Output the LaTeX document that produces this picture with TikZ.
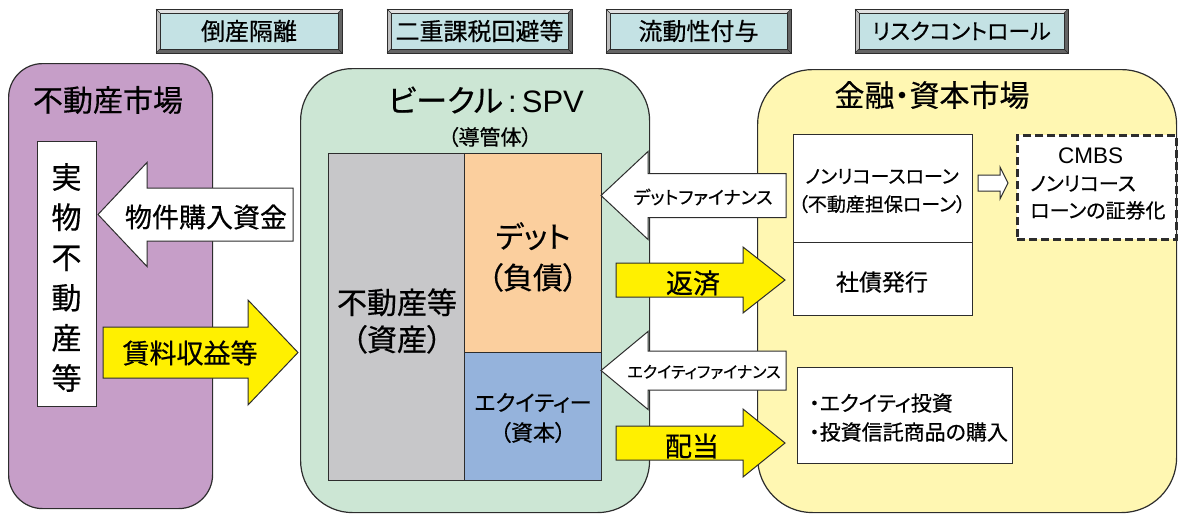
\documentclass[tikz,border=0pt]{standalone}
\usepackage{fontspec}
\setmainfont{Noto Sans CJK JP}[RawFeature=+palt, FakeBold=0.5]
\newfontfamily\latin{Liberation Sans}
\definecolor{purpleF}{RGB}{198,158,200}
\definecolor{greenF}{RGB}{204,230,212}
\definecolor{yellowF}{RGB}{255,247,178}
\definecolor{grayF}{RGB}{199,199,201}
\definecolor{orangeF}{RGB}{251,207,158}
\definecolor{blueF}{RGB}{149,179,220}
\definecolor{yarrowF}{RGB}{255,240,0}
\definecolor{labelF}{RGB}{196,226,228}
\definecolor{lineC}{RGB}{45,45,45}
\definecolor{bevLight}{RGB}{225,225,225}
\definecolor{bevMid}{RGB}{190,190,190}
\definecolor{bevDark}{RGB}{100,100,100}
\newcommand\myfs[2]{\fontsize{#1}{#2}\selectfont}
\tikzset{
  panel/.style={draw=lineC, line width=1.2pt, inner sep=0pt, anchor=north west},
  plainbox/.style={draw=lineC, line width=1pt, fill=white, inner sep=0pt, anchor=north west},
  dashbox/.style={draw=lineC, line width=2.8pt, fill=white, inner sep=0pt, anchor=north west, dash pattern=on 8pt off 4pt},
  blockW/.style={draw=lineC, line width=1pt, fill=white, line join=miter},
  blockY/.style={draw=lineC, line width=1pt, fill=yarrowF, line join=miter},
  lbl/.style={inner sep=0pt, align=center},
}
% block arrow: #1 style, #2 tail x, #3 head base x, #4 tip x, #5 centre y, #6 shaft half, #7 head half, #8 name
\newcommand\blockarrow[8]{%
  \draw[#1] (#2,#5-#6) coordinate (#8-tail) -- (#3,#5-#6) -- (#3,#5-#7) -- (#4,#5) coordinate (#8-tip)
    -- (#3,#5+#7) -- (#3,#5+#6) -- (#2,#5+#6) -- cycle;}
% bevelled label: #1 name, #2 x1, #3 x2, #4 font size, #5 text
\newcommand\bevelbox[5]{%
  \fill[bevDark] (#2,9) rectangle (#3,53);
  \fill[bevLight] (#2,9) -- (#3,9) -- (#3-4,13) -- (#2+4,13) -- cycle;
  \fill[bevMid] (#2,9) -- (#2+4,13) -- (#2+4,49) -- (#2,53) -- cycle;
  \draw[lineC, line width=0.6pt] (#2,9) -- (#2+4,13) (#3,9) -- (#3-4,13) (#2,53) -- (#2+4,49) (#3,53) -- (#3-4,49);
  \draw[lineC, line width=0.9pt] (#2,9) rectangle (#3,53);
  \node[draw=lineC, line width=0.7pt, fill=labelF, minimum width=#3-#2-8, minimum height=36, inner sep=0pt,
        font=\myfs{#4}{#4}] (#1) at ({(#2+#3)/2},31) {#5};}
\begin{document}
\begin{tikzpicture}[x=1pt,y=-1pt]
\useasboundingbox (0,0) rectangle (1178,514);

% top labels
\bevelbox{bankrupt}{156}{342}{24}{倒産隔離}
\bevelbox{doubletax}{387}{572}{24}{二重課税回避等}
\bevelbox{liquidity}{606}{791}{24}{流動性付与}
\bevelbox{riskctl}{855}{1068}{22}{リスクコントロール}

% panels
\node[panel, fill=purpleF, rounded corners=34pt, minimum width=204, minimum height=445] (realmkt) at (8,63) {};
\node[panel, fill=greenF, rounded corners=52pt, minimum width=349, minimum height=444] (spv) at (300,68) {};
\node[panel, fill=yellowF, rounded corners=55pt, minimum width=419, minimum height=443] (finmkt) at (757,69) {};

\node[lbl, font=\myfs{30}{30}] (realmkt-t) at (108,100) {不動産市場};
\node[lbl, font=\myfs{31}{31}] (spv-t) at (486,100) {ビークル{\latin\,:\,SPV}};
\node[lbl, font=\myfs{21}{21}] (spv-s) at (490,137) {（導管体）};
\node[lbl, font=\myfs{30}{30}] (finmkt-t) at (932,95) {金融・資本市場};

% real estate
\node[plainbox, minimum width=59, minimum height=265] (physical) at (37,141) {};
\node[lbl, font=\myfs{30}{40.2}] (physical-t) at (66.5,277.5) {実\\物\\不\\動\\産\\等};

% SPV balance sheet
\node[plainbox, fill=grayF, minimum width=136, minimum height=327] (asset) at (328,153) {};
\node[plainbox, fill=orangeF, minimum width=137, minimum height=199] (debt) at (464,153) {};
\node[plainbox, fill=blueF, minimum width=137, minimum height=128] (equity) at (464,352) {};
\node[lbl, font=\myfs{30}{37}] (asset-t) at (397,321) {不動産等\\（資産）};
\node[lbl, font=\myfs{30}{41}] (debt-t) at (533,257) {デット\\（負債）};
\node[lbl, font=\myfs{22}{30}] (equity-t) at (533,418) {エクイティー\\（資本）};

% financial market boxes
\node[plainbox, minimum width=179, minimum height=108] (nonrec) at (793,134) {};
\node[plainbox, minimum width=179, minimum height=73] (bond) at (793,242) {};
\node[lbl, font=\myfs{19}{28}] (nonrec-t) at (882,191) {ノンリコースローン\\（不動産担保ローン）};
\node[lbl, font=\myfs{23}{23}] (bond-t) at (882,282) {社債発行};
\node[dashbox, minimum width=159, minimum height=104] (cmbs) at (1016,134) {};
\node[lbl, align=left, anchor=north west, font=\myfs{20}{27}] (cmbs-t) at (1030,148) {\hspace*{28pt}{\latin\fontsize{22.5}{27}\selectfont CMBS}\\ノンリコース\\ローンの証券化};
\node[plainbox, minimum width=215, minimum height=96] (invest) at (797,367) {};
\node[lbl, align=left, anchor=west, font=\myfs{21}{29}] (invest-t) at (809,417.5) {・エクイティ投資\\・投資信託商品の購入};

% block arrows
\blockarrow{blockW}{293}{147}{98}{214.5}{26.5}{52}{purchase}
\node[lbl, font=\myfs{27}{27}] (purchase-t) at (206,217) {物件購入資金};
\blockarrow{blockY}{103}{248}{298}{352.5}{25.5}{52.5}{rent}
\node[lbl, font=\myfs{27}{27}] (rent-t) at (190,353) {賃料収益等};
\blockarrow{blockW}{786}{648}{601}{195.5}{22}{44}{debtfin}
\node[lbl, font=\myfs{18}{18}] (debtfin-t) at (703,197) {デットファイナンス};
\blockarrow{blockY}{616}{743}{785}{280}{17}{33}{repay}
\node[lbl, font=\myfs{27}{27}] (repay-t) at (693,283) {返済};
\blockarrow{blockW}{786}{648}{601}{370.5}{19.5}{39}{eqfin}
\node[lbl, font=\myfs{16}{16}] (eqfin-t) at (704,372) {エクイティファイナンス};
\blockarrow{blockY}{616}{743}{785}{443}{17}{34}{dividend}
\node[lbl, font=\myfs{27}{27}] (dividend-t) at (692,446) {配当};
\blockarrow{blockW}{978}{1000}{1008}{183}{8}{16}{securitize}
\end{tikzpicture}
\end{document}
